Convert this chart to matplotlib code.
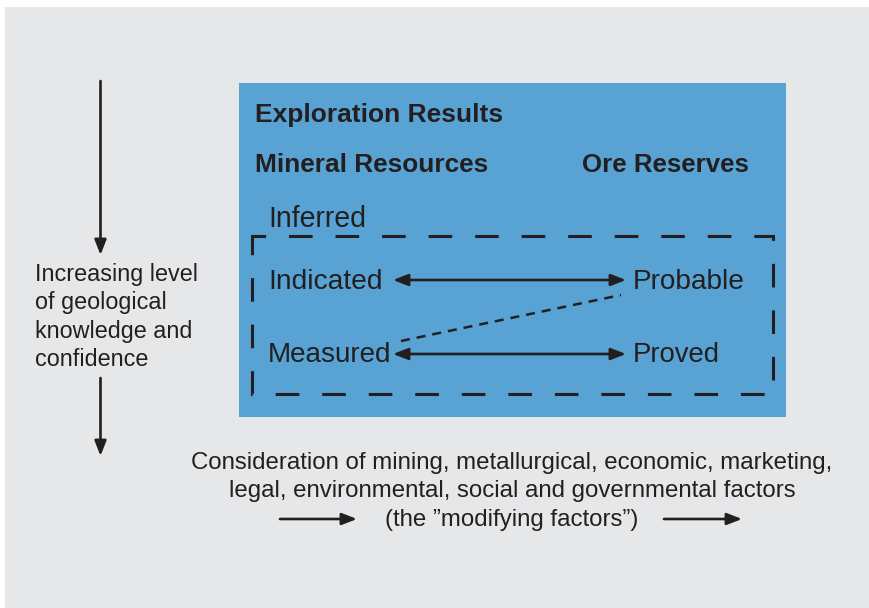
import matplotlib
matplotlib.use("Agg")
import matplotlib.pyplot as plt
from matplotlib.patches import Rectangle
from matplotlib import font_manager

# ---- content ----
heading = "Exploration Results"
left_header = "Mineral Resources"
right_header = "Ore Reserves"
inferred_label = "Inferred"
resource_labels = ["Indicated", "Measured"]
reserve_labels = ["Probable", "Proved"]
side_lines = ["Increasing level", "of geological", "knowledge and", "confidence"]
bottom_lines = ["Consideration of mining, metallurgical, economic, marketing,",
                "legal, environmental, social and governmental factors",
                "(the \u201dmodifying factors\u201d)"]

# ---- style ----
BG = "#e6e7e9"
BLUE = "#58a2d4"
INK = "#231f20"

names = {f.name for f in font_manager.fontManager.ttflist}
NARROW = "Liberation Sans Narrow" if "Liberation Sans Narrow" in names else "Liberation Sans"
REG = "Liberation Sans"

plt.rcParams["lines.scale_dashes"] = False

W, H = 870, 608
fig = plt.figure(figsize=(W / 100, H / 100), dpi=100, facecolor="white")
ax = fig.add_axes([0, 0, 1, 1])
ax.set_xlim(0, W)
ax.set_ylim(H, 0)
ax.axis("off")

fig.canvas.draw()
renderer = fig.canvas.get_renderer()


def fit(t, target_w):
    bb = t.get_window_extent(renderer)
    t.set_fontsize(t.get_fontsize() * target_w / bb.width)


# background panel
ax.add_patch(Rectangle((5, 7), W - 5, H - 7, facecolor=BG, edgecolor="none"))
# blue box
ax.add_patch(Rectangle((239, 83), 547, 334, facecolor=BLUE, edgecolor="none"))

# dashed rectangle (polyline starting on the left side so the corner dash is continuous)
rx0, ry0, rx1, ry1 = 252.5, 236, 773, 394
ax.plot([rx0, rx0, rx1, rx1, rx0, rx0], [ry0 + 10, ry0, ry0, ry1, ry1, ry0 + 10],
        color=INK, lw=2.2, dashes=(17, 16.5), solid_capstyle="butt",
        dash_capstyle="butt", solid_joinstyle="miter", dash_joinstyle="miter")

# bold headers
t = ax.text(255, 122, heading, fontsize=18, fontweight="bold", family=NARROW, color=INK, va="baseline")
fit(t, 248)
t = ax.text(255, 172, left_header, fontsize=18, fontweight="bold", family=NARROW, color=INK, va="baseline")
fit(t, 234)
t = ax.text(582, 172, right_header, fontsize=18, fontweight="bold", family=NARROW, color=INK, va="baseline")
fit(t, 167)

# classification labels
t = ax.text(268, 227, inferred_label, fontsize=19, family=REG, color=INK, va="baseline")
fit(t, 98)
rows_y = [289, 362]
res_w = [114, 124]
rsv_w = [112, 87]
for lab, y, w in zip(resource_labels, rows_y, res_w):
    t = ax.text(268, y, lab, fontsize=19, family=REG, color=INK, va="baseline")
    fit(t, w)
for lab, y, w in zip(reserve_labels, rows_y, rsv_w):
    t = ax.text(633, y, lab, fontsize=19, family=REG, color=INK, va="baseline")
    fit(t, w)

arrow_kw = dict(color=INK, lw=1.9, shrinkA=0, shrinkB=0, mutation_scale=10)
for y in [280, 354]:
    ax.annotate("", xy=(626, y), xytext=(393, y),
                arrowprops=dict(arrowstyle="<|-|>,head_length=0.9,head_width=0.35", **arrow_kw))

# diagonal dashed link Probable -> Measured
ax.plot([401, 621], [341, 295], color=INK, lw=1.8, dashes=(6.5, 5), dash_capstyle="butt")

# left side text and arrows
for i, line in enumerate(side_lines):
    t = ax.text(35, 281 + i * 28.4, line, fontsize=16, family=REG, color=INK, va="baseline")
    if i == 0:
        fit(t, 163)
        fs_side = t.get_fontsize()
    else:
        t.set_fontsize(fs_side)

ax.annotate("", xy=(100.5, 255), xytext=(100.5, 81),
            arrowprops=dict(arrowstyle="-|>,head_length=0.9,head_width=0.35", **arrow_kw))
ax.annotate("", xy=(100.5, 456), xytext=(100.5, 378),
            arrowprops=dict(arrowstyle="-|>,head_length=0.9,head_width=0.35", **arrow_kw))

# bottom text
bottom_y = [469, 497, 526]
fs_bottom = None
for i, (line, y) in enumerate(zip(bottom_lines, bottom_y)):
    t = ax.text(512, y, line, fontsize=16, family=NARROW, color=INK, ha="center", va="baseline")
    if i == 0:
        fit(t, 642)
        fs_bottom = t.get_fontsize()
    else:
        t.set_fontsize(fs_bottom)

for x0, x1 in [(280, 357), (664, 742)]:
    ax.annotate("", xy=(x1, 519), xytext=(x0, 519),
                arrowprops=dict(arrowstyle="-|>,head_length=0.9,head_width=0.35", **arrow_kw))

fig.savefig("out.png", dpi=100, facecolor="white")
